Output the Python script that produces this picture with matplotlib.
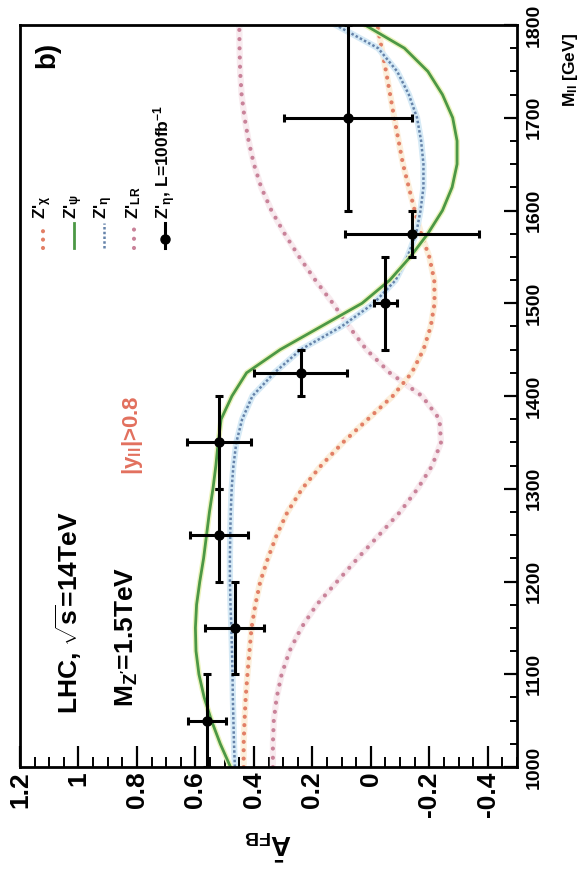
import matplotlib
matplotlib.use("Agg")
import matplotlib.pyplot as plt
from matplotlib.ticker import MultipleLocator, FuncFormatter

plt.rcParams['font.family'] = ['Liberation Sans', 'DejaVu Sans']
plt.rcParams['font.weight'] = 'bold'
plt.rcParams['axes.unicode_minus'] = False
plt.rcParams['mathtext.fontset'] = 'custom'
plt.rcParams['mathtext.rm'] = 'Liberation Sans:bold'
plt.rcParams['mathtext.it'] = 'Liberation Sans:bold'
plt.rcParams['mathtext.bf'] = 'Liberation Sans:bold'
plt.rcParams['mathtext.sf'] = 'Liberation Sans:bold'
plt.rcParams['mathtext.default'] = 'bf'

# Dilepton invariant mass grid (GeV)
mass = [1000, 1025, 1050, 1075, 1100, 1125, 1150, 1175, 1200, 1225, 1250,
        1275, 1300, 1325, 1350, 1375, 1400, 1425, 1450, 1475, 1500, 1525,
        1550, 1575, 1600, 1625, 1650, 1675, 1700, 1725, 1750, 1775, 1800]

# Forward-backward asymmetry predictions for each Z' model
afb_chi = [0.435, 0.435, 0.432, 0.428, 0.422, 0.415, 0.408, 0.395, 0.378, 0.352, 0.322,
           0.285, 0.235, 0.170, 0.095, 0.010, -0.075, -0.140, -0.180, -0.205, -0.218, -0.217,
           -0.200, -0.172, -0.150, -0.130, -0.110, -0.095, -0.080, -0.066, -0.052, -0.037, -0.022]
afb_psi = [0.480, 0.515, 0.545, 0.570, 0.588, 0.598, 0.600, 0.596, 0.585, 0.572, 0.562,
           0.552, 0.540, 0.530, 0.522, 0.512, 0.475, 0.425, 0.310, 0.170, 0.030, -0.065,
           -0.135, -0.195, -0.245, -0.278, -0.295, -0.295, -0.280, -0.245, -0.195, -0.115, 0.020]
afb_eta = [0.465, 0.468, 0.470, 0.472, 0.473, 0.475, 0.477, 0.480, 0.482, 0.482, 0.481,
           0.479, 0.476, 0.470, 0.460, 0.440, 0.405, 0.330, 0.240, 0.100, -0.010, -0.085,
           -0.125, -0.155, -0.170, -0.180, -0.180, -0.172, -0.158, -0.130, -0.090, -0.025, 0.120]
afb_lr = [0.335, 0.335, 0.332, 0.322, 0.305, 0.278, 0.238, 0.185, 0.115, 0.045, -0.028,
          -0.100, -0.160, -0.210, -0.240, -0.235, -0.175, -0.065, 0.015, 0.075, 0.130, 0.190,
          0.245, 0.295, 0.340, 0.375, 0.400, 0.418, 0.432, 0.442, 0.447, 0.449, 0.450]

# Simulated measurement for Z'_eta, L = 100 fb^-1
data_mass = [1050, 1150, 1250, 1350, 1425, 1500, 1575, 1700]
data_mass_halfwidth = [50, 50, 50, 50, 25, 50, 25, 100]
data_afb = [0.56, 0.466, 0.52, 0.52, 0.24, -0.05, -0.14, 0.078]
data_afb_err = [0.066, 0.10, 0.10, 0.11, 0.16, 0.04, 0.23, 0.22]

legend_labels = [r"Z'$_{\chi}$", r"Z'$_{\psi}$", r"Z'$_{\eta}$", r"Z'$_{LR}$",
                 r"Z'$_{\eta}$, L=100fb$^{-1}$"]

W, H = 582, 869
fig = plt.figure(figsize=(W / 100, H / 100), dpi=100)
ax = fig.add_axes([20 / W, (H - 767) / H, 497 / W, 742 / H])

dot_kw = dict(dash_capstyle='round', solid_capstyle='round')

# Z'_LR : mauve dots
ax.plot(afb_lr, mass, color='#f8ebef', lw=4.5)
ax.plot(afb_lr, mass, color='#c98299', lw=3.0, ls=(0, (0.01, 2.2)), **dot_kw)
# Z'_chi : orange-red dots
ax.plot(afb_chi, mass, color='#fcefdc', lw=4.5)
ax.plot(afb_chi, mass, color='#e27f66', lw=3.0, ls=(0, (0.01, 2.0)), **dot_kw)
# Z'_eta : fine blue dots
ax.plot(afb_eta, mass, color='#d6eaf6', lw=4.5)
ax.plot(afb_eta, mass, color='#6583aa', lw=1.8, ls=(0, (1.0, 0.9)))
# Z'_psi : green solid
ax.plot(afb_psi, mass, color='#ebf3bd', lw=4.0)
ax.plot(afb_psi, mass, color='#4c9845', lw=2.0)

ax.errorbar(data_afb, data_mass, xerr=data_afb_err, yerr=data_mass_halfwidth,
            fmt='o', color='black', ms=6.5, elinewidth=2.2, capsize=3, capthick=2.2,
            zorder=5)

ax.set_xlim(1.2, -0.5)
ax.set_ylim(1000, 1800)

ax.xaxis.set_major_locator(MultipleLocator(0.2))
ax.xaxis.set_minor_locator(MultipleLocator(0.05))
ax.yaxis.set_major_locator(MultipleLocator(100))
ax.yaxis.set_minor_locator(MultipleLocator(25))
ax.xaxis.set_major_formatter(FuncFormatter(lambda v, p: f"{round(v, 2):g}"))

ax.tick_params(axis='x', which='major', direction='in', length=15, width=1.6,
               bottom=True, top=False, labelsize=19, pad=3, labelrotation=90)
ax.tick_params(axis='x', which='minor', direction='in', length=7.5, width=1.4,
               bottom=True, top=False)
ax.tick_params(axis='y', which='major', direction='in', length=9.5, width=1.6,
               left=False, right=True, labelleft=False, labelright=True,
               labelsize=14, pad=6, labelrotation=90)
ax.tick_params(axis='y', which='minor', direction='in', length=5, width=1.4,
               left=False, right=True)
for s in ax.spines.values():
    s.set_linewidth(2)
for lbl in ax.get_yticklabels():
    lbl.set_va('center')

# Axis titles
ax.text(0.499, -0.105, r'$\bar{A}_{FB}$', rotation=180, ha='center', va='center',
        fontsize=20, transform=ax.transAxes, clip_on=False)
ax.text(1.107, 0.99, r'M$_{ll}$ [GeV]', rotation=90, ha='center', va='top',
        fontsize=12.5, transform=ax.transAxes, clip_on=False)

# Annotations
ax.text(0.054, 0.96, 'b)', rotation=90, ha='center', va='center', fontsize=20,
        transform=ax.transAxes)
ax.text(0.097, 0.208, r'LHC, $\sqrt{s}$=14TeV', rotation=90, ha='center', va='center',
        fontsize=19, transform=ax.transAxes)
ax.text(0.215, 0.176, r"M$_{Z'}$=1.5TeV", rotation=90, ha='center', va='center',
        fontsize=19, transform=ax.transAxes)
ax.text(0.227, 0.447, r'|y$_{ll}$|>0.8', rotation=90, ha='center', va='center',
        fontsize=16, color='#e2705e', transform=ax.transAxes)

# Legend, stacked across the panel
leg_x = [0.046, 0.109, 0.169, 0.229, 0.292]
y_lo, y_hi = 0.699, 0.733
ax.plot([leg_x[0]] * 2, [y_lo, y_hi], transform=ax.transAxes, color='#e27f66',
        lw=3.0, ls=(0, (0.01, 2.0)), **dot_kw)
ax.plot([leg_x[1]] * 2, [y_lo, y_hi], transform=ax.transAxes, color='#4c9845', lw=2.0)
ax.plot([leg_x[2]] * 2, [y_lo, y_hi], transform=ax.transAxes, color='#6583aa',
        lw=1.8, ls=(0, (1.0, 0.9)))
ax.plot([leg_x[3]] * 2, [y_lo, y_hi], transform=ax.transAxes, color='#c98299',
        lw=3.0, ls=(0, (0.01, 2.2)), **dot_kw)
ax.plot([leg_x[4]] * 2, [y_lo, y_hi], transform=ax.transAxes, color='black', lw=2.2)
ax.plot([leg_x[4]], [0.712], transform=ax.transAxes, marker='o', color='black', ms=6.5)
for xl, lab in zip(leg_x, legend_labels):
    ax.text(xl, 0.738, lab, rotation=90, ha='center', va='bottom', fontsize=12.5,
            transform=ax.transAxes)

fig.savefig('out.png', dpi=100)
